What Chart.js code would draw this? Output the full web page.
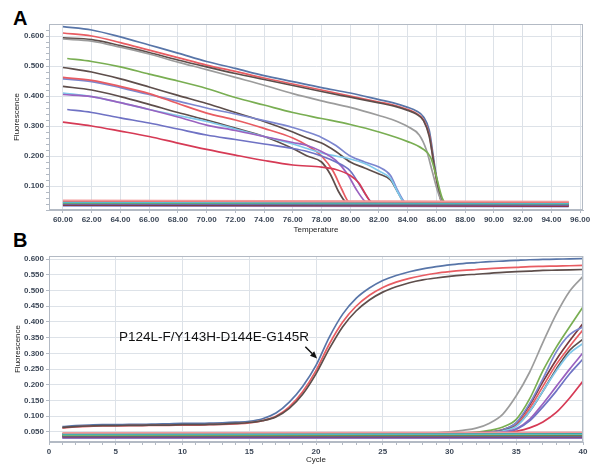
<!DOCTYPE html>
<html>
<head>
<meta charset="utf-8">
<script src="https://cdn.jsdelivr.net/npm/chart.js@4/dist/chart.umd.min.js"></script>
<style>
  html, body { margin: 0; padding: 0; background: #ffffff; }
  body { width: 598px; height: 465px; position: relative; overflow: hidden; }
  canvas { position: absolute; left: 0; }
  #cA { top: 0; }
  #cB { top: 235px; }
  .panel { position: absolute; font-family: "Liberation Sans", Arial, sans-serif; font-weight: bold;
           font-size: 20px; line-height: 20px; color: #000; }
</style>
</head>
<body>
<div class="panel" style="left:13px; top:8px;">A</div>
<div class="panel" style="left:13px; top:230px;">B</div>
<canvas id="cA" width="598" height="235"></canvas>
<canvas id="cB" width="598" height="230"></canvas>
<script>
// ---------------- Panel A: melt curves (Temperature vs Fluorescence) ----------------
const xTicksA = [60, 62, 64, 66, 68, 70, 72, 74, 76, 78, 80, 82, 84, 86, 88, 90, 92, 94, 96];
const yMajorA = [0.1, 0.2, 0.3, 0.4, 0.5, 0.6];
const yMajorLabelsA = ['0.100', '0.200', '0.300', '0.400', '0.500', '0.600'];
const yMinorA = [0.02, 0.04, 0.06, 0.08, 0.12, 0.14, 0.16, 0.18, 0.22, 0.24, 0.26, 0.28,
                 0.32, 0.34, 0.36, 0.38, 0.42, 0.44, 0.46, 0.48, 0.52, 0.54, 0.56, 0.58, 0.62];

// each series: [temperature, fluorescence] pairs
const meltBlue   = [[60,0.631],[62,0.62],[64,0.597],[66,0.57],[68,0.543],[70,0.515],[72,0.492],[74,0.468],[76,0.448],[78,0.428],[80,0.41],[82,0.388],[83,0.377],[84,0.362],[84.6,0.35],[85.1,0.33],[85.5,0.285],[85.9,0.16],[86.3,0.06],[86.7,0.038],[95.2,0.036]];
const meltRed    = [[60,0.61],[62,0.6],[64,0.578],[66,0.553],[68,0.528],[70,0.503],[72,0.482],[74,0.46],[76,0.44],[78,0.42],[80,0.4],[82,0.38],[83,0.37],[84,0.355],[84.6,0.342],[85.1,0.32],[85.5,0.27],[85.9,0.15],[86.3,0.055],[86.7,0.037],[95.2,0.035]];
const meltBrown  = [[60,0.594],[62,0.588],[64,0.568],[66,0.545],[68,0.52],[70,0.497],[72,0.475],[74,0.455],[76,0.435],[78,0.415],[80,0.396],[82,0.377],[83,0.367],[84,0.352],[84.6,0.34],[85.1,0.318],[85.5,0.265],[85.9,0.15],[86.3,0.055],[86.7,0.036],[95.2,0.033]];
const meltGray   = [[60,0.59],[62,0.583],[64,0.563],[66,0.54],[68,0.513],[70,0.488],[72,0.462],[74,0.436],[76,0.408],[78,0.384],[80,0.362],[82,0.335],[83,0.32],[84,0.298],[84.8,0.27],[85.3,0.22],[85.7,0.15],[86.1,0.08],[86.5,0.04],[95.2,0.034]];
const meltGreen  = [[60.3,0.525],[62,0.515],[64,0.497],[66,0.473],[68,0.45],[70,0.425],[72,0.395],[74,0.37],[76,0.345],[78,0.325],[80,0.305],[82,0.28],[84,0.248],[85,0.225],[85.6,0.195],[86,0.13],[86.4,0.06],[86.8,0.037],[95.2,0.033]];
const meltBrown2 = [[60,0.495],[62,0.48],[64,0.457],[66,0.43],[68,0.402],[70,0.375],[72,0.345],[74,0.315],[76,0.28],[77,0.26],[78,0.243],[79,0.215],[80,0.18],[81,0.16],[82,0.14],[82.8,0.12],[83.3,0.08],[83.8,0.042],[84.2,0.037],[95.2,0.035]];
const meltLav    = [[60,0.457],[62,0.448],[64,0.428],[66,0.405],[68,0.383],[70,0.36],[72,0.34],[74,0.318],[76,0.295],[77,0.28],[78,0.262],[79,0.235],[80,0.2],[81,0.18],[82,0.163],[82.8,0.135],[83.3,0.085],[83.8,0.045],[84.2,0.038],[95.2,0.036]];
const meltRed2   = [[60,0.462],[62,0.452],[64,0.432],[66,0.408],[68,0.375],[70,0.343],[72,0.32],[74,0.292],[76,0.26],[77,0.235],[78,0.2],[78.8,0.15],[79.4,0.09],[79.9,0.045],[80.4,0.037],[95.2,0.036]];
const meltBrown3 = [[60,0.432],[62,0.42],[64,0.398],[66,0.372],[68,0.345],[70,0.32],[72,0.293],[74,0.265],[76,0.225],[77,0.2],[78,0.18],[78.6,0.14],[79.2,0.08],[79.7,0.045],[80.2,0.037],[95.2,0.034]];
const meltCyan   = [[60,0.41],[62,0.398],[64,0.378],[66,0.355],[68,0.335],[70,0.315],[72,0.29],[74,0.265],[76,0.24],[77,0.225],[78,0.21],[79,0.2],[80,0.19],[81,0.175],[82,0.15],[82.8,0.125],[83.3,0.08],[83.8,0.042],[84.2,0.038],[95.2,0.038]];
const meltPurple = [[60,0.405],[62,0.398],[64,0.378],[66,0.355],[68,0.33],[70,0.303],[72,0.285],[74,0.265],[76,0.245],[77,0.235],[78,0.215],[79,0.185],[79.8,0.14],[80.4,0.09],[81,0.05],[81.5,0.038],[95.2,0.035]];
const meltLav2   = [[60.3,0.355],[62,0.345],[64,0.327],[66,0.31],[68,0.29],[70,0.27],[72,0.255],[74,0.24],[76,0.225],[77,0.215],[78,0.2],[79,0.18],[80,0.15],[80.7,0.1],[81.3,0.055],[81.8,0.038],[95.2,0.035]];
const meltCrimson= [[60,0.313],[62,0.3],[64,0.283],[66,0.265],[68,0.243],[70,0.222],[72,0.203],[74,0.185],[76,0.17],[78,0.163],[79,0.155],[80,0.135],[80.6,0.11],[81.1,0.07],[81.6,0.04],[95.2,0.037]];
// negative / baseline wells (start and end of flat lines)
const meltFlatStart = [0.052, 0.050, 0.047, 0.045, 0.044, 0.042, 0.040, 0.038, 0.036, 0.034];
const meltFlatEnd   = [0.048, 0.046, 0.044, 0.042, 0.041, 0.039, 0.037, 0.035, 0.033, 0.031];
const flatColorsA   = ['#f29a9a', '#e85a5a', '#58c2d6', '#3aa8a6', '#7fb052', '#5a78b4', '#8a58b0', '#6a4a46', '#9a3448', '#9095d6'];

// ---------------- Panel B: amplification curves (Cycle vs Fluorescence) ----------------
const xMajorB = [0, 5, 10, 15, 20, 25, 30, 35, 40];
const yMajorB = [0.05, 0.1, 0.15, 0.2, 0.25, 0.3, 0.35, 0.4, 0.45, 0.5, 0.55, 0.6];
const yLabelsB = ['0.050','0.100','0.150','0.200','0.250','0.300','0.350','0.400','0.450','0.500','0.550','0.600'];
const cyclesB = [1,2,3,4,5,6,7,8,9,10,11,12,13,14,15,16,17,18,19,20,21,22,23,24,25,26,27,28,29,30,31,32,33,34,35,36,37,38,39,40];
const ampBlue  = [0.067,0.070,0.072,0.073,0.073,0.074,0.074,0.075,0.076,0.077,0.077,0.078,0.079,0.081,0.084,0.092,0.110,0.145,0.195,0.262,0.352,0.425,0.475,0.508,0.532,0.548,0.560,0.569,0.576,0.582,0.586,0.589,0.592,0.594,0.596,0.598,0.599,0.600,0.601,0.602];
const ampRed   = [0.063,0.066,0.068,0.069,0.069,0.070,0.070,0.071,0.071,0.072,0.072,0.073,0.074,0.076,0.079,0.086,0.100,0.130,0.178,0.245,0.330,0.400,0.450,0.485,0.510,0.527,0.539,0.548,0.555,0.560,0.564,0.567,0.570,0.572,0.574,0.576,0.577,0.578,0.579,0.580];
const ampBrown = [0.064,0.067,0.069,0.070,0.070,0.071,0.071,0.072,0.072,0.073,0.073,0.074,0.075,0.077,0.080,0.086,0.098,0.125,0.170,0.235,0.315,0.385,0.435,0.470,0.495,0.512,0.525,0.534,0.540,0.545,0.549,0.552,0.555,0.558,0.560,0.562,0.564,0.565,0.566,0.567];
// late-rising wells: values at these cycles
const lateCycles = [1, 28, 29, 30, 31, 32, 33, 34, 35, 36, 37, 38, 39, 40];
const ampGray    = [0.043, 0.046, 0.047, 0.050, 0.055, 0.062, 0.078, 0.107, 0.165, 0.240, 0.335, 0.425, 0.498, 0.545];
const ampGreen   = [0.042, 0.044, 0.045, 0.046, 0.047, 0.049, 0.055, 0.066, 0.090, 0.155, 0.245, 0.320, 0.385, 0.448];
const ampMaroon  = [0.042, 0.044, 0.045, 0.046, 0.047, 0.048, 0.050, 0.058, 0.078, 0.135, 0.210, 0.280, 0.340, 0.395];
const ampRed2    = [0.041, 0.043, 0.044, 0.045, 0.046, 0.047, 0.048, 0.056, 0.073, 0.125, 0.195, 0.265, 0.322, 0.375];
const ampLav     = [0.041, 0.043, 0.044, 0.045, 0.046, 0.047, 0.049, 0.057, 0.080, 0.140, 0.220, 0.305, 0.360, 0.385];
const ampCyan    = [0.040, 0.042, 0.043, 0.044, 0.045, 0.046, 0.047, 0.053, 0.068, 0.115, 0.180, 0.245, 0.300, 0.332];
const ampBrown2  = [0.041, 0.043, 0.044, 0.045, 0.045, 0.046, 0.047, 0.054, 0.070, 0.115, 0.180, 0.250, 0.310, 0.345];
const ampPurple  = [0.039, 0.041, 0.042, 0.043, 0.043, 0.044, 0.045, 0.050, 0.060, 0.090, 0.140, 0.195, 0.250, 0.302];
const ampViolet  = [0.038, 0.040, 0.041, 0.042, 0.042, 0.043, 0.044, 0.047, 0.058, 0.085, 0.130, 0.180, 0.235, 0.282];
const ampCrimson = [0.038, 0.040, 0.041, 0.042, 0.042, 0.043, 0.043, 0.045, 0.052, 0.063, 0.082, 0.112, 0.158, 0.212];
// negative wells (flat from cycle 1 to 40)
const flatCyclesB = [1, 40];
const ampFlat = [[0.047,0.049],[0.044,0.046],[0.042,0.044],[0.040,0.041],[0.038,0.039],[0.036,0.036],[0.034,0.034],[0.032,0.032],[0.030,0.030]];
const flatColorsB = ['#f29a9a', '#3aa8a6', '#58c2d6', '#7fb052', '#6a4a46', '#5a78b4', '#9a3448', '#8a58b0', '#9095d6'];

// annotation
const annotText = 'P124L-F/Y143H-D144E-G145R';
const annotAt = [5.25, 0.3525];
const arrowFrom = [19.2, 0.321];
const arrowTo = [20.08, 0.284];

// ---------------- helpers ----------------
const COL = {
  blue: '#5875a8', red: '#e85c62', brown: '#5e4e4b', gray: '#9c9c9c', green: '#79ae52',
  lav: '#7c86cf', cyan: '#7fc8ea', purple: '#9a62c0', crimson: '#d63a55', maroon: '#7a3a3e',
  violet: '#6f72c4'
};
const FONT = "'Liberation Sans', Arial, sans-serif";
const tickColor = '#3d4858';
const gridCol = '#dde2e8';
const borderCol = '#b3bac4';

function pairDs(pairs, color) {
  return { data: pairs.map(p => ({ x: p[0], y: p[1] })), borderColor: color,
           borderWidth: 1.7, pointRadius: 0, fill: false, cubicInterpolationMode: 'monotone' };
}
function arrDs(xs, ys, color) {
  return { data: xs.map((x, i) => ({ x: x, y: ys[i] })), borderColor: color,
           borderWidth: 1.7, pointRadius: 0, fill: false, cubicInterpolationMode: 'monotone' };
}

const frame = {
  id: 'frame',
  afterDraw(chart) {
    const a = chart.chartArea, c = chart.ctx;
    c.save(); c.strokeStyle = borderCol; c.lineWidth = 1;
    c.strokeRect(Math.round(a.left) + 0.5, Math.round(a.top) + 0.5,
                 Math.round(a.right - a.left) - 1, Math.round(a.bottom - a.top) - 1);
    c.restore();
  }
};

function gridOpts() {
  return {
    color: ctx => (ctx.tick && ctx.tick.major) ? gridCol : 'rgba(0,0,0,0)',
    tickColor: borderCol, tickLength: 3, drawTicks: true, lineWidth: 1
  };
}
const tickFont = { family: FONT, size: 8, weight: 'bold' };
const titleFont = { family: FONT, size: 8 };

// ---------------- Chart A ----------------
const dsA = [];
meltFlatStart.forEach((v, i) => dsA.push(pairDs([[60, v], [95.2, meltFlatEnd[i]]], flatColorsA[i])));
dsA.push(pairDs(meltCrimson, COL.crimson));
dsA.push(pairDs(meltLav2, COL.violet));
dsA.push(pairDs(meltPurple, COL.purple));
dsA.push(pairDs(meltCyan, COL.cyan));
dsA.push(pairDs(meltBrown3, COL.brown));
dsA.push(pairDs(meltRed2, COL.red));
dsA.push(pairDs(meltLav, COL.lav));
dsA.push(pairDs(meltBrown2, COL.brown));
dsA.push(pairDs(meltGreen, COL.green));
dsA.push(pairDs(meltGray, COL.gray));
dsA.push(pairDs(meltBrown, COL.brown));
dsA.push(pairDs(meltRed, COL.red));
dsA.push(pairDs(meltBlue, COL.blue));

new Chart(document.getElementById('cA'), {
  type: 'line',
  data: { datasets: dsA },
  options: {
    responsive: false, animation: false, devicePixelRatio: 1,
    layout: { padding: { top: 24, right: 15, left: 0, bottom: 0 } },
    plugins: { legend: { display: false }, tooltip: { enabled: false } },
    scales: {
      x: {
        type: 'linear', min: 59.03, max: 96.2,
        afterBuildTicks: s => { s.ticks = xTicksA.map(v => ({ value: v, major: true })); },
        afterFit: s => { s.height = 25; },
        ticks: { autoSkip: false, maxRotation: 0, minRotation: 0, padding: 2, color: tickColor, font: tickFont,
                 callback: v => v.toFixed(2) },
        grid: gridOpts(),
        border: { color: borderCol },
        title: { display: true, text: 'Temperature', color: '#222', font: titleFont, padding: { top: 0, bottom: 0 } }
      },
      y: {
        type: 'linear', min: 0.02, max: 0.64,
        afterBuildTicks: s => {
          const t = yMajorA.map(v => ({ value: v, major: true })).concat(yMinorA.map(v => ({ value: v, major: false })));
          t.sort((a, b) => a.value - b.value);
          s.ticks = t;
        },
        afterFit: s => { s.width = 49; },
        ticks: { autoSkip: false, padding: 2, color: tickColor, font: tickFont,
                 callback: (v, i, ticks) => { const k = yMajorA.indexOf(v); return k >= 0 ? yMajorLabelsA[k] : ''; } },
        grid: gridOpts(),
        border: { color: borderCol },
        title: { display: true, text: 'Fluorescence', color: '#222', font: titleFont, padding: { top: 12, bottom: 0 } }
      }
    }
  },
  plugins: [frame]
});

// ---------------- Chart B ----------------
const dsB = [];
ampFlat.forEach((v, i) => dsB.push(arrDs(flatCyclesB, v, flatColorsB[i])));
dsB.push(arrDs(lateCycles, ampCrimson, COL.crimson));
dsB.push(arrDs(lateCycles, ampViolet, COL.violet));
dsB.push(arrDs(lateCycles, ampPurple, COL.purple));
dsB.push(arrDs(lateCycles, ampCyan, COL.cyan));
dsB.push(arrDs(lateCycles, ampBrown2, COL.brown));
dsB.push(arrDs(lateCycles, ampLav, COL.lav));
dsB.push(arrDs(lateCycles, ampRed2, COL.red));
dsB.push(arrDs(lateCycles, ampMaroon, COL.maroon));
dsB.push(arrDs(lateCycles, ampGreen, COL.green));
dsB.push(arrDs(lateCycles, ampGray, COL.gray));
dsB.push(arrDs(cyclesB, ampBrown, COL.brown));
dsB.push(arrDs(cyclesB, ampRed, COL.red));
dsB.push(arrDs(cyclesB, ampBlue, COL.blue));

const annot = {
  id: 'annot',
  afterDatasetsDraw(chart) {
    const xs = chart.scales.x, ys = chart.scales.y, c = chart.ctx;
    c.save();
    c.fillStyle = '#111'; c.font = '13.5px ' + FONT; c.textAlign = 'left'; c.textBaseline = 'middle';
    c.fillText(annotText, xs.getPixelForValue(annotAt[0]), ys.getPixelForValue(annotAt[1]));
    const x0 = xs.getPixelForValue(arrowFrom[0]), y0 = ys.getPixelForValue(arrowFrom[1]);
    const x1 = xs.getPixelForValue(arrowTo[0]), y1 = ys.getPixelForValue(arrowTo[1]);
    const ang = Math.atan2(y1 - y0, x1 - x0), L = 7, W = 3;
    const bx = x1 - L * Math.cos(ang), by = y1 - L * Math.sin(ang);
    c.strokeStyle = '#111'; c.lineWidth = 1.5;
    c.beginPath(); c.moveTo(x0, y0); c.lineTo(bx, by); c.stroke();
    c.beginPath(); c.moveTo(x1, y1);
    c.lineTo(bx + W * Math.sin(ang), by - W * Math.cos(ang));
    c.lineTo(bx - W * Math.sin(ang), by + W * Math.cos(ang));
    c.closePath(); c.fill();
    c.restore();
  }
};

new Chart(document.getElementById('cB'), {
  type: 'line',
  data: { datasets: dsB },
  options: {
    responsive: false, animation: false, devicePixelRatio: 1,
    layout: { padding: { top: 21, right: 15, left: 0, bottom: 0 } },
    plugins: { legend: { display: false }, tooltip: { enabled: false } },
    scales: {
      x: {
        type: 'linear', min: 0, max: 40,
        afterBuildTicks: s => {
          const t = [];
          for (let c = 0; c <= 40; c++) t.push({ value: c, major: xMajorB.indexOf(c) >= 0 });
          s.ticks = t;
        },
        afterFit: s => { s.height = 23; },
        ticks: { autoSkip: false, maxRotation: 0, minRotation: 0, padding: 2, color: tickColor, font: tickFont,
                 callback: v => xMajorB.indexOf(v) >= 0 ? String(v) : '' },
        grid: gridOpts(),
        border: { color: borderCol },
        title: { display: true, text: 'Cycle', color: '#222', font: titleFont, padding: { top: 0, bottom: 0 } }
      },
      y: {
        type: 'linear', min: 0.018, max: 0.61,
        afterBuildTicks: s => { s.ticks = yMajorB.map(v => ({ value: v, major: true })); },
        afterFit: s => { s.width = 49; },
        ticks: { autoSkip: false, padding: 2, color: tickColor, font: tickFont,
                 callback: v => { const k = yMajorB.indexOf(v); return k >= 0 ? yLabelsB[k] : ''; } },
        grid: gridOpts(),
        border: { color: borderCol },
        title: { display: true, text: 'Fluorescence', color: '#222', font: titleFont, padding: { top: 13, bottom: 0 } }
      }
    }
  },
  plugins: [frame, annot]
});
</script>
</body>
</html>
